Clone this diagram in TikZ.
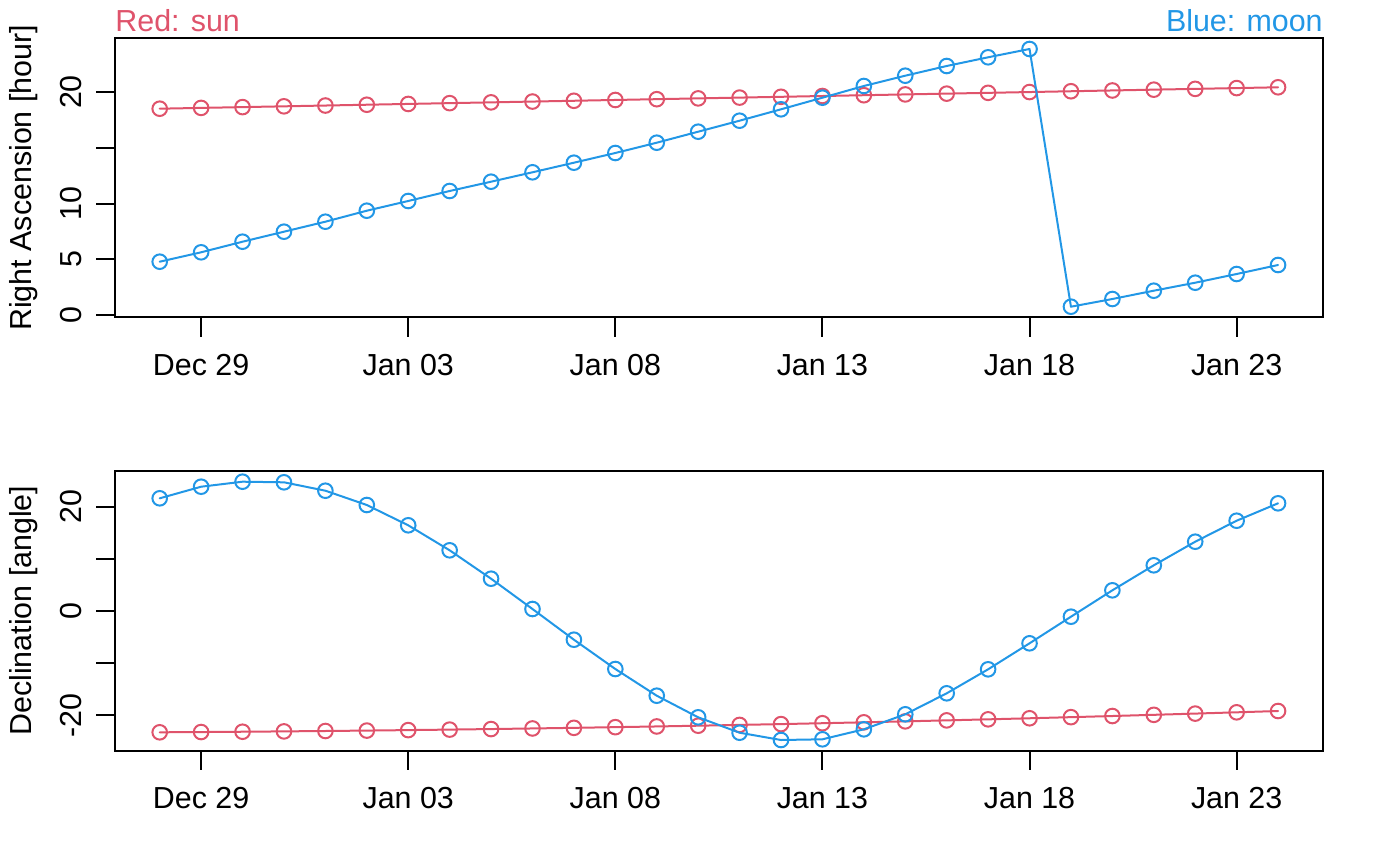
\documentclass[tikz,border=0pt]{standalone}
\usepackage{fontspec}
\setmainfont{Liberation Sans}
\definecolor{rsun}{HTML}{DF536B}
\definecolor{rmoon}{HTML}{2297E6}
\begin{document}
\begin{tikzpicture}[x=0.5pt,y=-0.5pt,
  font=\fontsize{15.2}{18}\selectfont,
  frame/.style={draw=black,line width=1pt},
  tickmark/.style={draw=black,line width=1pt},
  dot/.style={circle,draw,line width=1pt,minimum size=7.3pt,inner sep=0pt,fill=none},
  series/.style={line width=1pt,line join=round,line cap=round},
  lab/.style={inner sep=0pt}]

\useasboundingbox (0,0) rectangle (1400,866);

% ---------------- top panel ----------------
\draw[frame] (115,38.3) rectangle (1323,317.3);
\foreach \v in {0,5,10,15,20}
  \draw[tickmark] (115,{315-11.15*\v}) -- (95.5,{315-11.15*\v});
\foreach \v/\n in {0/a,5/b,10/c,20/d}
  \node[lab,rotate=90,anchor=base] (ytl\n) at (81.5,{315-11.15*\v}) {\v};
\foreach \i/\t in {1/Dec 29,6/Jan 03,11/Jan 08,16/Jan 13,21/Jan 18,26/Jan 23}{
  \draw[tickmark] ({159.7+41.42*\i},317.3) -- ({159.7+41.42*\i},337);
  \node[lab,anchor=base] (xtt\i) at ({159.7+41.42*\i},375) {\t};
}
\node[lab,rotate=90,anchor=base] (ytitletop) at (31.7,177.8) {Right Ascension [hour]};
\node[lab,anchor=base west,text=rsun] (tsun) at (115,31.7) {Red: sun};
\node[lab,anchor=base east,text=rmoon] (tmoon) at (1323,31.7) {Blue: moon};

% sun right ascension
\foreach \i in {0,...,27}
  \node[dot,draw=rsun] (sra\i) at ({159.7+41.42*\i},{108.7-0.793*\i}) {};
\draw[series,rsun] (sra0.center) \foreach \i in {1,...,27}{ -- (sra\i.center)};

% moon right ascension
\foreach \i/\y in {0/261.7,1/252.3,2/241.7,3/231.7,4/221.7,5/210.7,6/201,7/191,
  8/181.7,9/172.3,10/162.7,11/153,12/142.7,13/131.7,14/120.7,15/109.3,16/97.7,
  17/86,18/75.7,19/66,20/57.3,21/49,22/306.7,23/299,24/290.7,25/282.7,26/274,27/265}
  \node[dot,draw=rmoon] (mra\i) at ({159.7+41.42*\i},\y) {};
\draw[series,rmoon] (mra0.center) \foreach \i in {1,...,27}{ -- (mra\i.center)};

% ---------------- bottom panel ----------------
\draw[frame] (115,471) rectangle (1323,750.5);
\foreach \v in {-20,-10,0,10,20}
  \draw[tickmark] (115,{611-5.215*\v}) -- (95.5,{611-5.215*\v});
\foreach \v/\n in {-20/a,0/b,20/c}
  \node[lab,rotate=90,anchor=base] (ybl\n) at (81.5,{611-5.215*\v}) {\v};
\foreach \i/\t in {1/Dec 29,6/Jan 03,11/Jan 08,16/Jan 13,21/Jan 18,26/Jan 23}{
  \draw[tickmark] ({159.7+41.42*\i},750.5) -- ({159.7+41.42*\i},770);
  \node[lab,anchor=base] (xtb\i) at ({159.7+41.42*\i},808.3) {\t};
}
\node[lab,rotate=90,anchor=base] (ytitlebot) at (31.7,610.7) {Declination [angle]};

% sun declination
\foreach \i in {0,...,27}
  \node[dot,draw=rsun] (sde\i) at ({159.7+41.42*\i},{732.3-0.2467*\i-0.02008*\i*\i}) {};
\draw[series,rsun] (sde0.center) \foreach \i in {1,...,27}{ -- (sde\i.center)};

% moon declination
\foreach \i/\y in {0/498.3,1/486.7,2/481.7,3/482.3,4/490.7,5/505,6/525.3,7/550.3,
  8/578.7,9/609,10/639.7,11/669,12/695.7,13/717.3,14/732.7,15/740,16/739.3,
  17/729.3,18/714.3,19/693.3,20/669.3,21/643.3,22/616.7,23/590.3,24/565.3,
  25/541.7,26/520.7,27/503.3}
  \node[dot,draw=rmoon] (mde\i) at ({159.7+41.42*\i},\y) {};
\draw[series,rmoon] (mde0.center) \foreach \i in {1,...,27}{ -- (mde\i.center)};

\end{tikzpicture}
\end{document}
